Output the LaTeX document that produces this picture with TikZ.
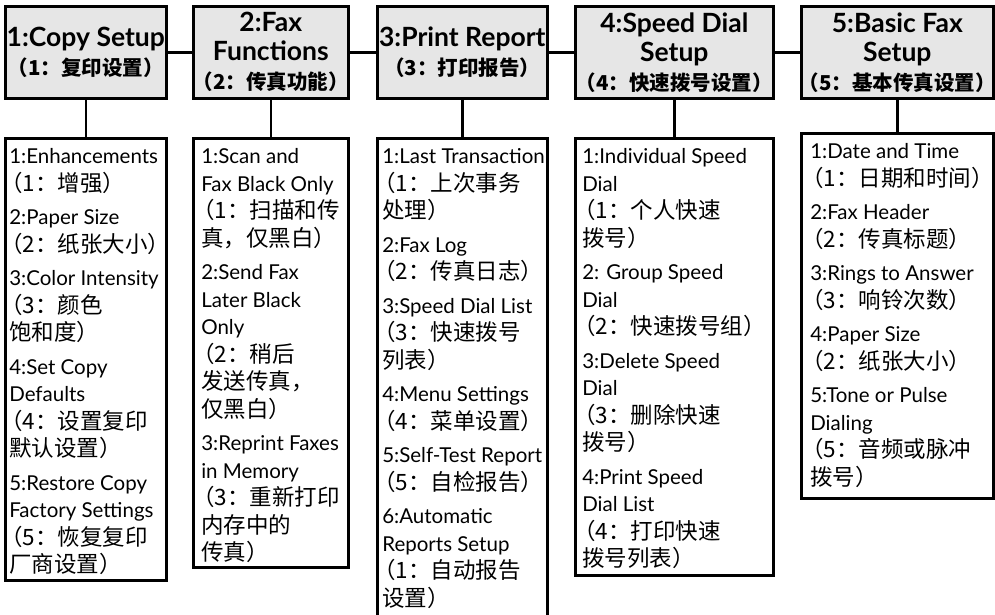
\documentclass[tikz,border=0pt]{standalone}
\usepackage{fontspec}
\setmainfont{Lato}
\newfontfamily\cjk{Noto Sans CJK SC}
\definecolor{menugray}{RGB}{230,230,230}
\newcommand\zh[1]{\smash{\cjk\fontsize{22.5}{26}\selectfont#1}}
\newcommand\hz[1]{{\cjk\fontsize{20.5}{29}\selectfont#1}}
\newcommand\lp{\kern-.4em（}
\newcommand\rp{）\kern-.4em}
\newcommand\menutext[4]{%
  \begin{minipage}[c][#1][t]{#2}\vspace*{6pt}%
  \begin{tabular}{@{\hspace{#3}}l@{}}#4\end{tabular}\end{minipage}}
\begin{document}
\begin{tikzpicture}[x=1pt, y=-1pt,
    hdr/.style={draw, line width=2.6pt, fill=menugray, anchor=north west,
      inner sep=0pt, minimum height=92pt, align=center,
      font=\bfseries\fontsize{26.5}{29}\selectfont},
    menu/.style={draw, line width=2.6pt, anchor=north west, inner sep=0pt,
      font=\fontsize{20.5}{27.5}\selectfont},
    link/.style={line width=2.6pt}]
  \useasboundingbox (0,0) rectangle (995,614);

  \node[hdr, minimum width=161pt] (t1) at (4,5) {1:Copy Setup\\\hz{\lp 1：复印设置\rp}};
  \node[hdr, minimum width=155pt] (t2) at (192,5) {2:Fax\\Functions\\\hz{\lp 2：传真功能\rp}};
  \node[hdr, minimum width=170pt] (t3) at (376,5) {3:Print Report\\\hz{\lp 3：打印报告\rp}};
  \node[hdr, minimum width=198pt] (t4) at (574,5) {4:Speed Dial\\Setup\\\hz{\lp 4：快速拨号设置\rp}};
  \node[hdr, minimum width=192pt] (t5) at (800,5) {5:Basic Fax\\Setup\\\hz{\lp 5：基本传真设置\rp}};

  \node[menu] (b1) at (4,137) {\menutext{442pt}{161pt}{4pt}{%
    1:Enhancements\\ \zh{\lp 1：增强\rp}\\[6pt]
    2:Paper Size\\ \zh{\lp 2：纸张大小\rp}\\[6pt]
    3:Color Intensity\\ \zh{\lp 3：颜色}\\ \zh{饱和度\rp}\\[6pt]
    4:Set Copy\\ Defaults\\ \zh{\lp 4：设置复印}\\ \zh{默认设置\rp}\\[6pt]
    5:Restore Copy\\ Factory Settings\\ \zh{\lp 5：恢复复印}\\ \zh{厂商设置\rp}}};
  \node[menu] (b2) at (192,137) {\menutext{429pt}{155pt}{8pt}{%
    1:Scan and\\ Fax Black Only\\ \zh{\lp 1：扫描和传}\\ \zh{真，仅黑白\rp}\\[6pt]
    2:Send Fax\\ Later Black\\ Only\\ \zh{\lp 2：稍后}\\ \zh{发送传真，}\\ \zh{仅黑白\rp}\\[6pt]
    3:Reprint Faxes\\ in Memory\\ \zh{\lp 3：重新打印}\\ \zh{内存中的}\\ \zh{传真\rp}}};
  \node[menu] (b3) at (376,137) {\menutext{488pt}{170pt}{5pt}{%
    1:Last Transaction\\ \zh{\lp 1：上次事务}\\ \zh{处理\rp}\\[6pt]
    2:Fax Log\\ \zh{\lp 2：传真日志\rp}\\[6pt]
    3:Speed Dial List\\ \zh{\lp 3：快速拨号}\\ \zh{列表\rp}\\[6pt]
    4:Menu Settings\\ \zh{\lp 4：菜单设置\rp}\\[6pt]
    5:Self-Test Report\\ \zh{\lp 5：自检报告\rp}\\[6pt]
    6:Automatic\\ Reports Setup\\ \zh{\lp 1：自动报告}\\ \zh{设置\rp}}};
  \node[menu] (b4) at (574,137) {\menutext{437pt}{198pt}{7pt}{%
    1:Individual Speed\\ Dial\\ \zh{\lp 1：个人快速}\\ \zh{拨号\rp}\\[6pt]
    2: Group Speed\\ Dial\\ \zh{\lp 2：快速拨号组\rp}\\[6pt]
    3:Delete Speed\\ Dial\\ \zh{\lp 3：删除快速}\\ \zh{拨号\rp}\\[6pt]
    4:Print Speed\\ Dial List\\ \zh{\lp 4：打印快速}\\ \zh{拨号列表\rp}}};
  \node[menu] (b5) at (800,132) {\menutext{365pt}{192pt}{9pt}{%
    1:Date and Time\\ \zh{\lp 1：日期和时间\rp}\\[6pt]
    2:Fax Header\\ \zh{\lp 2：传真标题\rp}\\[6pt]
    3:Rings to Answer\\ \zh{\lp 3：响铃次数\rp}\\[6pt]
    4:Paper Size\\ \zh{\lp 2：纸张大小\rp}\\[6pt]
    5:Tone or Pulse\\ Dialing\\ \zh{\lp 5：音频或脉冲}\\ \zh{拨号\rp}}};

  \draw[link] (t1) -- (t2);
  \draw[link] (t2) -- (t3);
  \draw[link] (t3) -- (t4);
  \draw[link] (t4) -- (t5);
  \draw[link] (t1.south) -- (b1.north);
  \draw[link] (t2.south) -- (b2.north);
  \draw[link] (t3.south) -- (b3.north);
  \draw[link] (t4.south) -- (b4.north);
  \draw[link] (t5.south) -- (b5.north);
\end{tikzpicture}
\end{document}
